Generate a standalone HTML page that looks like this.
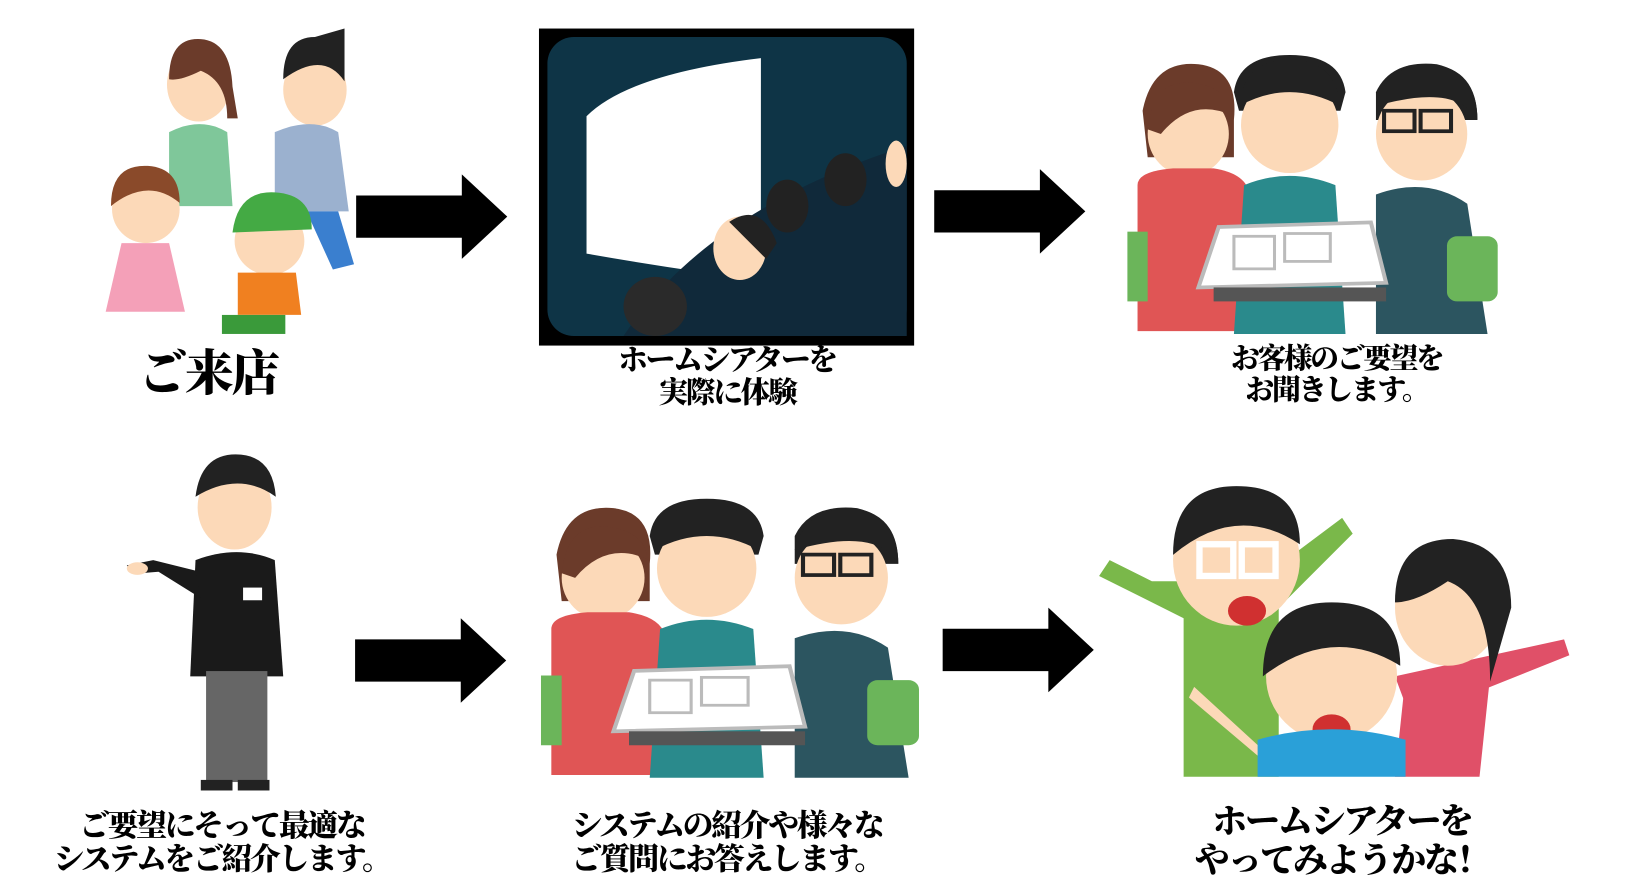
<!DOCTYPE html>
<html><head><meta charset="utf-8"><style>
html,body{margin:0;padding:0;background:#fff;width:1638px;height:893px;overflow:hidden}
#w{position:absolute;left:0;top:0;width:1550px;height:845px;transform:scale(1.0568);transform-origin:0 0}
.t{position:absolute;font-family:"Liberation Serif","Noto Serif CJK SC","Noto Sans CJK JP",serif;font-weight:900;color:#000;text-align:center;white-space:nowrap;transform:translateX(-50%);letter-spacing:-2px}
svg{position:absolute;left:0;top:0}
</style></head><body><div id="w">
<svg width="1550" height="845" viewBox="0 0 1550 845">
<defs>
<g id="arrow"><polygon points="0,20 100,20 100,0 143,40 100,80 100,60 0,60" fill="#000"/></g>
<g id="meet">
 <path d="M20,60 q10,-55 55,-50 q40,5 35,60 l0,40 l-85,0z" fill="#6b3b2a"/>
 <ellipse cx="65" cy="85" rx="40" ry="45" fill="#fcd9b8"/>
 <path d="M25,80 q5,-55 45,-50 q35,5 38,35 q-40,-20 -70,20z" fill="#6b3b2a"/>
 <path d="M15,140 q0,-15 35,-18 l40,0 q30,5 35,25 l10,150 l-120,0z" fill="#e05555"/>
 <path d="M110,40 q5,-40 55,-40 q50,0 55,40 l-5,20 l-100,0z" fill="#222"/>
 <ellipse cx="165" cy="75" rx="48" ry="52" fill="#fcd9b8"/>
 <path d="M115,55 q5,-50 50,-50 q45,0 50,50 q-50,-30 -100,0z" fill="#222"/>
 <path d="M120,140 q45,-20 90,0 l10,160 l-110,0z" fill="#2a8a8c"/>
 <path d="M250,40 q15,-35 60,-30 q40,10 40,60 l-100,0z" fill="#222"/>
 <ellipse cx="295" cy="85" rx="45" ry="50" fill="#fcd9b8"/>
 <path d="M250,55 q10,-45 55,-45 q45,5 45,60 q-20,-40 -100,-15z" fill="#222"/>
 <rect x="258" y="60" width="30" height="22" fill="none" stroke="#222" stroke-width="4"/>
 <rect x="294" y="60" width="30" height="22" fill="none" stroke="#222" stroke-width="4"/>
 <path d="M250,150 q50,-20 90,10 l20,140 l-110,0z" fill="#2c5560"/>
 <rect x="320" y="195" width="50" height="70" rx="10" fill="#6bb55a"/>
 <rect x="5" y="190" width="20" height="75" fill="#6bb55a"/>
 <polygon points="95,185 245,180 260,245 75,250" fill="#fff" stroke="#bbb" stroke-width="4"/>
 <rect x="110" y="195" width="40" height="35" fill="#fff" stroke="#bbb" stroke-width="3"/>
 <rect x="160" y="192" width="45" height="30" fill="#fff" stroke="#bbb" stroke-width="3"/>
 <rect x="90" y="250" width="170" height="15" fill="#555"/>
</g>
</defs>
<g>
 <ellipse cx="188" cy="80" rx="30" ry="35" fill="#fcd9b8"/><path d="M160,75 q0,-40 30,-38 q28,2 30,45 l5,30 l-10,0 q0,-35 -25,-45 q-20,10 -30,8z" fill="#6b3b2a"/>
 <path d="M160,125 q30,-15 55,0 l5,70 l-60,0z" fill="#7fc79a"/>
 <ellipse cx="298" cy="85" rx="30" ry="34" fill="#fcd9b8"/><path d="M268,75 q0,-40 30,-40 l28,-8 l0,50 q-20,-30 -58,-2z" fill="#222"/>
 <path d="M260,125 q35,-15 60,0 l10,75 l-70,0z" fill="#9bb1cf"/><path d="M290,200 l30,0 l15,50 l-20,5z" fill="#3a7fcf"/>
 <ellipse cx="138" cy="198" rx="32" ry="32" fill="#fcd9b8"/><path d="M105,195 q0,-40 35,-38 q30,2 30,35 q-30,-25 -65,3z" fill="#8a4a2a"/>
 <path d="M115,230 l45,0 l15,65 l-75,0z" fill="#f4a0b8"/>
 <ellipse cx="255" cy="228" rx="33" ry="32" fill="#fcd9b8"/><path d="M220,220 q5,-40 40,-38 q35,2 35,35 z" fill="#44aa44"/>
 <path d="M225,258 l55,0 l5,40 l-60,0z" fill="#f08020"/><rect x="210" y="298" width="60" height="18" fill="#3a9a3a"/>
</g>
<rect x="510" y="27" width="355" height="300" fill="#000"/>
<rect x="518" y="35" width="340" height="283" rx="25" fill="#0e3446"/>
<path d="M555,110 q40,-40 165,-55 l0,210 q-80,-10 -165,-25z" fill="#fff"/>
<path d="M590,318 q80,-120 268,-180 l0,180z" fill="#10293a"/>
<ellipse cx="620" cy="290" rx="30" ry="28" fill="#2a2a2a"/>
<ellipse cx="700" cy="235" rx="25" ry="30" fill="#fcd9b8"/><path d="M690,210 q30,-20 45,20 l-10,15z" fill="#222"/>
<ellipse cx="745" cy="195" rx="20" ry="25" fill="#222"/>
<ellipse cx="800" cy="170" rx="20" ry="25" fill="#222"/>
<ellipse cx="848" cy="155" rx="10" ry="22" fill="#fcd9b8"/>
<use href="#arrow" x="337" y="165"/>
<use href="#arrow" x="884" y="160"/>
<use href="#meet" transform="translate(1062,52) scale(0.96,0.88)"/>
<g>
 <ellipse cx="222" cy="480" rx="35" ry="40" fill="#fcd9b8"/><path d="M185,470 q5,-40 38,-40 q35,0 38,40 q-35,-25 -76,0z" fill="#222"/>
 <path d="M185,530 q40,-15 75,0 l8,110 l-88,0z" fill="#1a1a1a"/>
 <path d="M185,540 l-40,-10 l-25,5 l5,8 l25,-2 l40,25z" fill="#1a1a1a"/><ellipse cx="130" cy="538" rx="10" ry="6" fill="#fcd9b8"/>
 <rect x="230" y="556" width="18" height="12" fill="#fff"/>
 <rect x="195" y="635" width="58" height="105" fill="#666"/>
 <rect x="190" y="738" width="30" height="10" fill="#222"/><rect x="225" y="738" width="30" height="10" fill="#222"/>
</g>
<use href="#arrow" x="336" y="585"/>
<use href="#meet" transform="translate(507,472) scale(0.98,0.88)"/>
<use href="#arrow" x="892" y="575"/>
<g>
 <path d="M1040,545 l80,40 l0,150 l90,0 l0,-160 l70,-70 l-10,-15 l-80,60 l-100,0 l-40,-20z" fill="#7ab84a"/>
 <ellipse cx="1170" cy="530" rx="60" ry="62" fill="#fcd9b8"/><path d="M1110,525 q0,-65 60,-65 q60,0 60,55 q-60,-40 -120,10z" fill="#222"/>
 <rect x="1135" y="515" width="32" height="30" fill="none" stroke="#fff" stroke-width="6"/><rect x="1175" y="515" width="32" height="30" fill="none" stroke="#fff" stroke-width="6"/>
 <ellipse cx="1180" cy="578" rx="18" ry="14" fill="#d03030"/>
 <path d="M1320,640 l160,-35 l5,15 l-150,60z" fill="#e05068"/>
 <ellipse cx="1370" cy="575" rx="50" ry="55" fill="#fcd9b8"/><path d="M1320,570 q0,-60 55,-60 q55,5 55,65 l-20,70 q0,-80 -40,-95 q-30,20 -50,20z" fill="#222"/>
 <path d="M1330,640 l80,0 l-10,95 l-80,0z" fill="#e05068"/>
 <ellipse cx="1260" cy="640" rx="62" ry="62" fill="#fcd9b8"/><path d="M1195,640 q0,-70 65,-70 q65,0 65,60 q-65,-40 -130,10z" fill="#222"/>
 <ellipse cx="1260" cy="690" rx="18" ry="14" fill="#d03030"/>
 <path d="M1190,700 q70,-20 140,0 l0,35 l-140,0z" fill="#2aa0d8"/>
 <path d="M1130,650 l60,55 l0,10 l-65,-55z" fill="#fcd9b8"/>
</g>
</svg>
<div class="t" style="left:197px;top:328px;font-size:46px;line-height:52px">ご来店</div>
<div class="t" style="left:688px;top:326px;font-size:28px;line-height:31px">ホームシアターを<br>実際に体験</div>
<div class="t" style="left:1265px;top:324px;font-size:27px;line-height:30px">お客様のご要望を<br>お聞きします。</div>
<div class="t" style="left:210px;top:766px;font-size:29px;line-height:32px">ご要望にそって最適な<br>システムをご紹介します。</div>
<div class="t" style="left:688px;top:766px;font-size:29px;line-height:32px">システムの紹介や様々な<br>ご質問にお答えします。</div>
<div class="t" style="left:1270px;top:760px;font-size:33px;line-height:37px">ホームシアターを<br>やってみようかな！</div>
</div></body></html>
